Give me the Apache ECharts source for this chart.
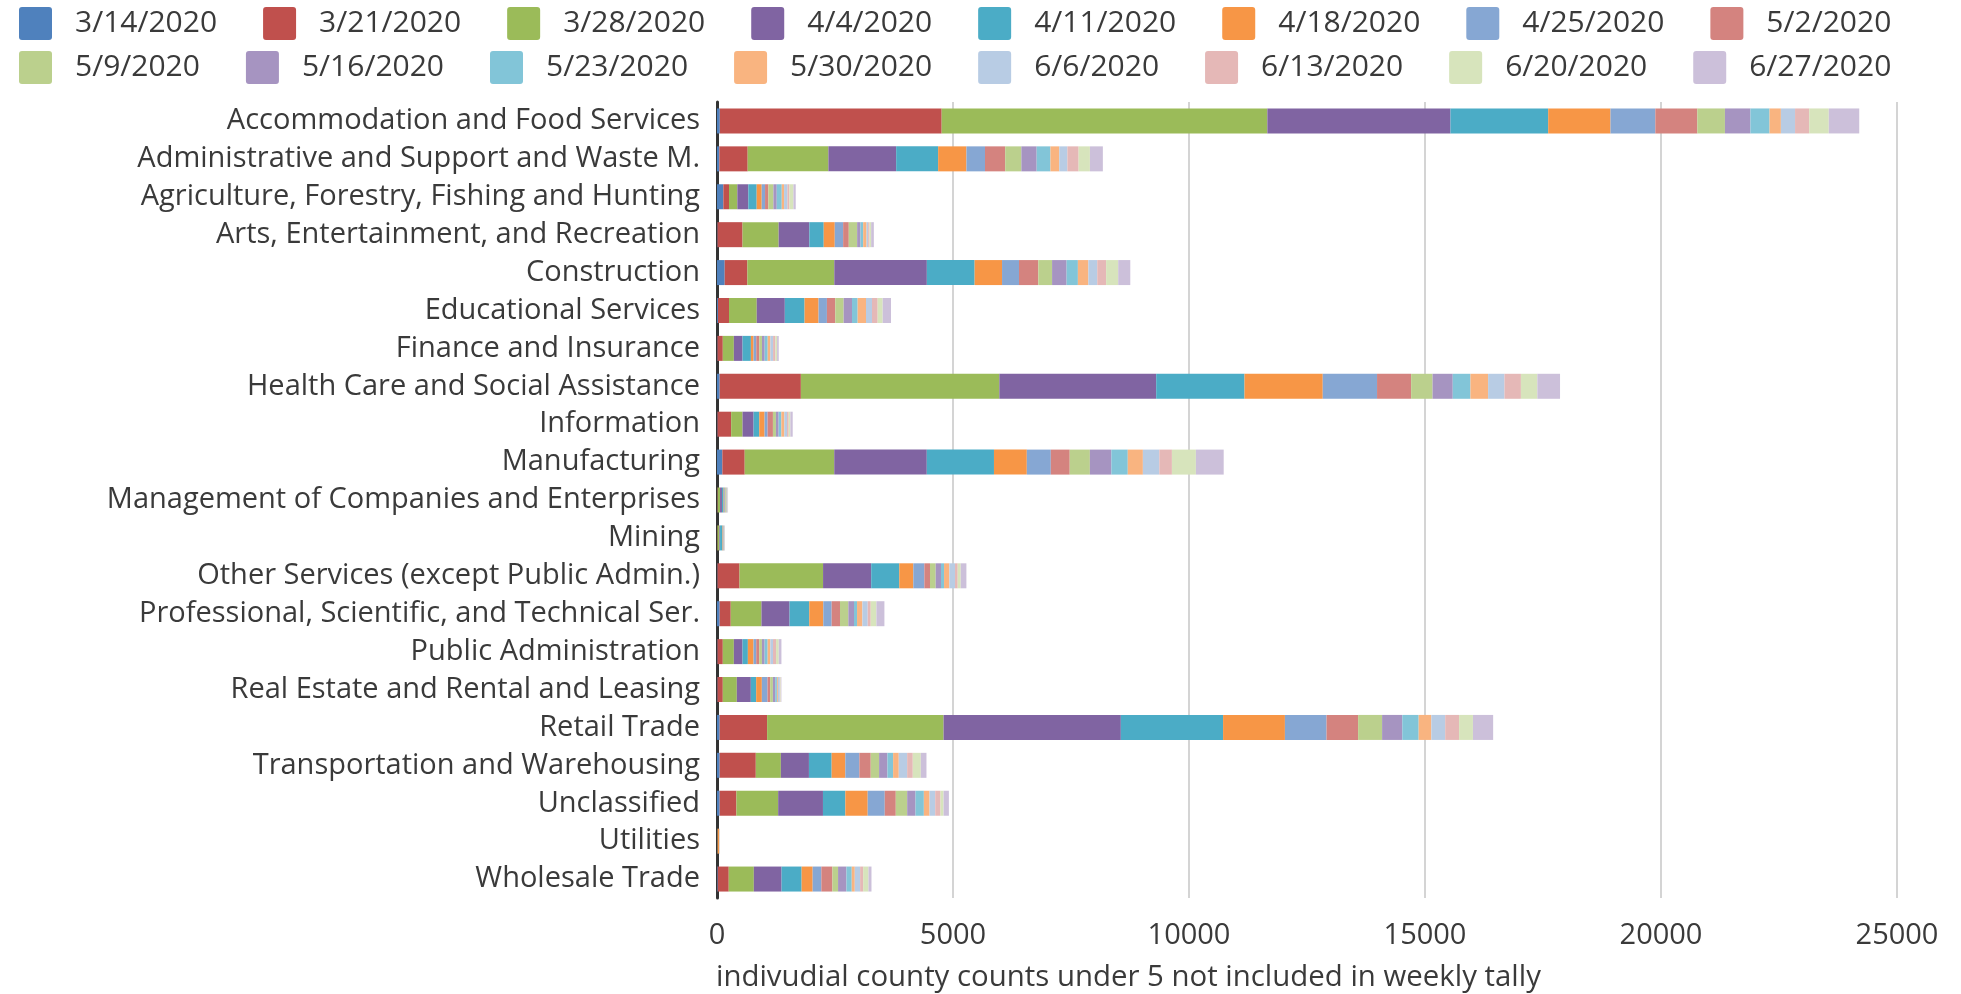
<!DOCTYPE html>
<html>
<head>
<meta charset="utf-8">
<script src="https://cdn.jsdelivr.net/npm/echarts@6/dist/echarts.min.js"></script>
<style>
html,body{margin:0;padding:0;background:#fff;}
#chart{width:1961px;height:994px;}
</style>
</head>
<body>
<div id="chart"></div>
<script>
const categories = [
  'Accommodation and Food Services',
  'Administrative and Support and Waste M.',
  'Agriculture, Forestry, Fishing and Hunting',
  'Arts, Entertainment, and Recreation',
  'Construction',
  'Educational Services',
  'Finance and Insurance',
  'Health Care and Social Assistance',
  'Information',
  'Manufacturing',
  'Management of Companies and Enterprises',
  'Mining',
  'Other Services (except Public Admin.)',
  'Professional, Scientific, and Technical Ser.',
  'Public Administration',
  'Real Estate and Rental and Leasing',
  'Retail Trade',
  'Transportation and Warehousing',
  'Unclassified',
  'Utilities',
  'Wholesale Trade'
];

const weeks = ['3/14/2020','3/21/2020','3/28/2020','4/4/2020','4/11/2020','4/18/2020','4/25/2020','5/2/2020',
               '5/9/2020','5/16/2020','5/23/2020','5/30/2020','6/6/2020','6/13/2020','6/20/2020','6/27/2020'];

const w0314 = [60,50,134,10,163,20,10,57,10,113,5,0,10,57,10,10,57,57,57,0,15];
const w0321 = [4700,600,120,531,481,234,113,1720,290,474,10,10,467,234,113,113,1005,765,354,3,234];
const w0328 = [6900,1710,177,765,1841,588,234,4205,241,1897,50,40,1770,651,234,297,3738,531,885,5,531];
const w0404 = [3880,1436,233,651,1961,595,184,3323,234,1961,40,15,1020,595,184,297,3756,595,949,3,588];
const w0411 = [2070,889,177,304,1012,418,177,1871,120,1423,35,50,595,418,113,113,2166,481,474,3,425];
const w0418 = [1320,600,106,234,581,297,57,1658,113,696,10,10,297,297,120,120,1310,290,474,30,234];
const w0425 = [950,393,71,177,359,177,57,1150,64,508,15,10,234,177,57,120,882,297,361,2,184];
const w0502 = [890,428,71,120,410,177,64,722,113,401,10,5,120,177,64,57,669,241,234,2,234];
const w0509 = [585,342,106,177,291,177,57,454,64,427,15,5,120,177,57,57,508,177,241,2,120];
const w0516 = [540,325,71,71,308,177,57,428,57,455,8,5,113,120,57,50,428,177,177,1,177];
const w0523 = [405,291,106,57,239,120,64,375,57,348,8,5,64,64,64,35,347,120,177,1,113];
const w0530 = [240,188,49,71,222,177,57,374,64,320,5,3,113,113,57,21,268,120,120,1,64];
const w0606 = [300,171,71,35,188,127,57,347,57,348,8,3,120,113,57,40,294,177,120,1,113];
const w0613 = [300,239,42,28,188,120,50,348,35,267,5,2,57,64,64,14,294,120,113,1,64];
const w0620 = [415,239,85,35,256,106,35,348,35,508,5,2,64,120,57,10,294,170,64,1,113];
const w0627 = [645,274,49,57,256,177,35,481,50,589,5,2,120,170,57,10,428,120,113,1,64];

const xTicks = [0, 5000, 10000, 15000, 20000, 25000];
const axisTitle = 'indivudial county counts under 5 not included in weekly tally';

const weekValues = [w0314,w0321,w0328,w0404,w0411,w0418,w0425,w0502,w0509,w0516,w0523,w0530,w0606,w0613,w0620,w0627];
const colors = ['#4F81BD','#C0504D','#9BBB59','#8064A2','#4BACC6','#F79646','#86A7D3','#D4837F',
                '#BBD08D','#A694C1','#82C5D8','#F9B480','#B8CCE4','#E5B8B7','#D7E4BC','#CCC0DA'];

const FONT = 'Open Sans';
const TXT = '#3a3a3a';

const chart = echarts.init(document.getElementById('chart'));

const squareIcon = 'path://M3,0 L30,0 Q33,0 33,3 L33,30 Q33,33 30,33 L3,33 Q0,33 0,30 L0,3 Q0,0 3,0 Z';

const legendCommon = {
  left: 14,
  orient: 'horizontal',
  itemWidth: 33,
  itemHeight: 33,
  itemGap: 46,
  icon: squareIcon,
  textStyle: { fontFamily: FONT, fontSize: 30, color: TXT, padding: [0, 0, 0, 18] },
  selectedMode: false
};

chart.setOption({
  animation: false,
  color: colors,
  legend: [
    Object.assign({}, legendCommon, { top: 2, data: weeks.slice(0, 8) }),
    Object.assign({}, legendCommon, { top: 46, data: weeks.slice(8) })
  ],
  title: {
    text: axisTitle,
    left: 716,
    top: 963,
    padding: 0,
    textStyle: { fontFamily: FONT, fontSize: 29.4, fontWeight: 'normal', color: TXT }
  },
  grid: { left: 717, right: 64, top: 102, bottom: 96, containLabel: false },
  xAxis: {
    type: 'value',
    min: xTicks[0],
    max: xTicks[xTicks.length - 1],
    interval: xTicks[1] - xTicks[0],
    axisLine: { show: false },
    axisTick: { show: false },
    splitLine: { show: true, lineStyle: { color: '#d4d4d4', width: 2 } },
    axisLabel: { fontFamily: FONT, fontSize: 29, color: TXT, margin: 23, formatter: v => String(v) }
  },
  yAxis: {
    type: 'category',
    data: categories,
    inverse: true,
    axisLine: { show: true, lineStyle: { color: '#333', width: 3 } },
    axisTick: { show: false },
    axisLabel: { fontFamily: FONT, fontSize: 29, color: TXT, margin: 17 }
  },
  series: weeks.map((w, i) => ({
    name: w,
    type: 'bar',
    stack: 'total',
    barWidth: 25,
    data: weekValues[i],
    itemStyle: { color: colors[i] }
  }))
});
</script>
</body>
</html>
